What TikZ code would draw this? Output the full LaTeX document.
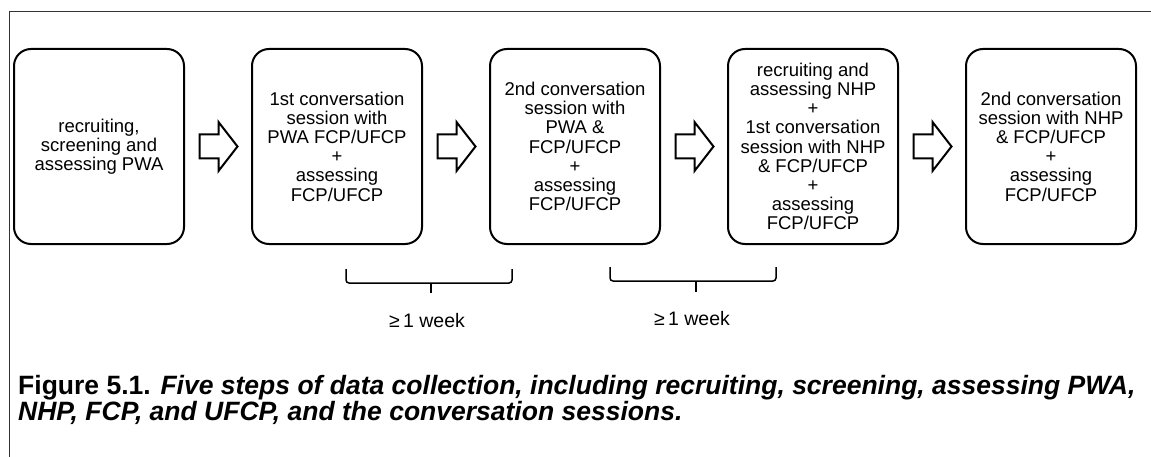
\documentclass[tikz,border=0pt]{standalone}
\usepackage{fontspec}
\setmainfont{Liberation Sans}
\usetikzlibrary{calc}
\begin{document}
\begin{tikzpicture}[x=1pt,y=-1pt,
  stepbox/.style={draw, line width=2pt, rounded corners=17pt, minimum width=170pt, minimum height=195pt, align=center, inner sep=0pt, font=\fontsize{18.5}{19.2}\selectfont},
  blk/.style={draw, line width=2pt, fill=white, line join=miter},
  brc/.style={draw, line width=1.5pt, rounded corners=3pt},
  frm/.style={draw, line width=1pt, black!80},
  lbl/.style={font=\fontsize{19.5}{20}\selectfont, inner sep=0pt, anchor=base},
  captxt/.style={font=\fontsize{26.5}{24}\selectfont\bfseries, align=left, inner sep=0pt, anchor=base west}
]
\useasboundingbox (0,0) rectangle (1151,457);
\draw[frm] (1151,12) -- (9,12) -- (9,457);

\node[stepbox] (b1) at (99,146.5) {recruiting,\\screening and\\assessing PWA};
\node[stepbox] (b2) at (337,146.5) {1st conversation\\session with\\PWA FCP/UFCP\\+\\assessing\\FCP/UFCP};
\node[stepbox] (b3) at (575,146.5) {2nd conversation\\session with\\PWA \&\\FCP/UFCP\\+\\assessing\\FCP/UFCP};
\node[stepbox] (b4) at (813,146.5) {recruiting and\\assessing NHP\\+\\1st conversation\\session with NHP\\\& FCP/UFCP\\+\\assessing\\FCP/UFCP};
\node[stepbox] (b5) at (1051,146.5) {2nd conversation\\session with NHP\\\& FCP/UFCP\\+\\assessing\\FCP/UFCP};

\foreach \i/\j in {1/2,2/3,3/4,4/5}{
  \coordinate (m\i) at ($(b\i.east)!0.5!(b\j.west)$);
  \draw[blk, shift={(m\i)}] (-18.5,-12) -- (0.5,-12) -- (0.5,-24.5) -- (19.5,0) -- (0.5,24.5) -- (0.5,12) -- (-18.5,12) -- cycle;
}

\coordinate (w1l) at (346,269);
\coordinate (w1r) at (512,269);
\coordinate (w1c) at (431,283);
\coordinate (w1t) at (431,293);
\draw[brc] (w1l) -- (346,283) -- (512,283) -- (w1r);
\draw[line width=1.5pt] (w1c) -- (w1t);
\node[lbl] (t1) at (427,327) {≥\,1 week};

\coordinate (w2l) at (610,267);
\coordinate (w2r) at (776,267);
\coordinate (w2c) at (696,281);
\coordinate (w2t) at (696,292);
\draw[brc] (w2l) -- (610,281) -- (776,281) -- (w2r);
\draw[line width=1.5pt] (w2c) -- (w2t);
\node[lbl] (t2) at (692,325) {≥\,1 week};

\node[captxt] (c) at (18,420) {Figure 5.1. \textit{Five steps of data collection, including recruiting, screening, assessing PWA,}\\\textit{NHP, FCP, and UFCP, and the conversation sessions.}};
\end{tikzpicture}
\end{document}
